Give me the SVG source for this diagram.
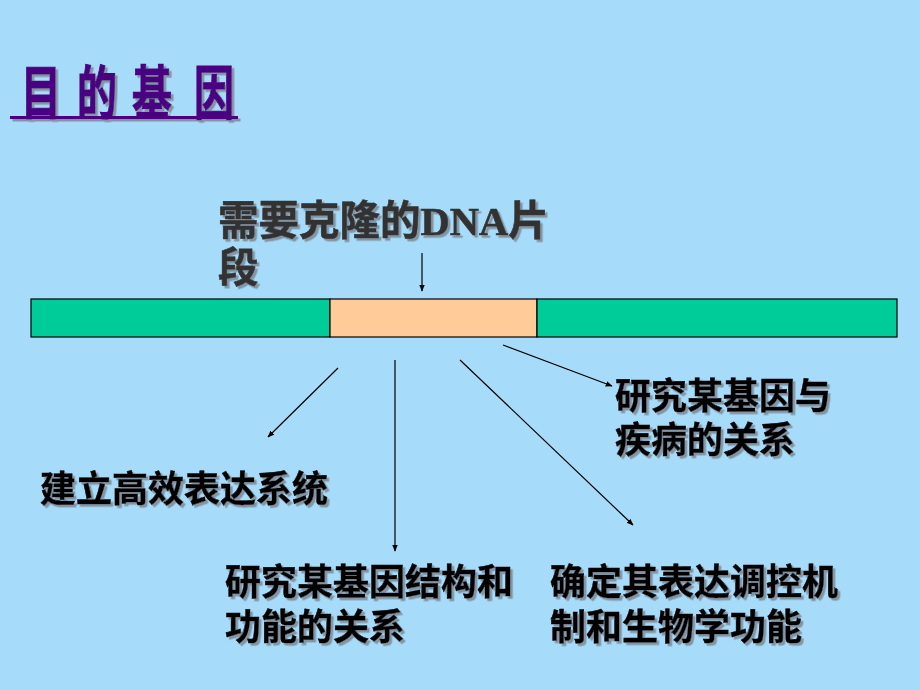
<svg xmlns="http://www.w3.org/2000/svg" width="920" height="690" viewBox="0 0 920 690">
<defs>
<style>
.cjk{font-family:"Liberation Sans","Noto Sans CJK SC",sans-serif;font-weight:bold}
.lbl{font-size:36px;fill:#000;stroke:#000;stroke-width:0.5}
.conn line{stroke:#000;stroke-width:1.2;marker-end:url(#ah)}
</style>
<filter id="sh" x="-10%" y="-10%" width="130%" height="140%">
<feDropShadow dx="2.5" dy="2.5" stdDeviation="0.6" flood-color="#7f8c99" flood-opacity="0.9"/>
</filter>
<marker id="ah" viewBox="0 0 10 10" refX="9" refY="5" markerWidth="7" markerHeight="7" markerUnits="userSpaceOnUse" orient="auto">
<path d="M0,1 L10,5 L0,9 z" fill="#000"/>
</marker>
</defs>
<rect width="920" height="690" fill="#A6DCFA"/>
<g id="title" filter="url(#sh)">
<text class="cjk" transform="translate(0,114) scale(1,1.45)" x="21 60 77 115 132 175 194" y="0" font-size="40" fill="#4B0082" stroke="#4B0082" stroke-width="0.8">目 的 基 因</text>
<rect x="10" y="116" width="228" height="3" fill="#4B0082"/>
</g>
<g id="fragment-label" filter="url(#sh)" fill="#333" stroke="#333" stroke-width="0.6">
<text class="cjk" x="218" y="235" font-size="40.5">需要克隆的<tspan font-family="'Liberation Serif',serif">DNA</tspan>片</text>
<text class="cjk" x="218" y="282" font-size="40.5">段</text>
</g>
<g id="dna-bar" stroke="#000" stroke-width="1.2">
<rect x="31" y="299" width="299" height="38" fill="#00CC99"/>
<rect x="330" y="299" width="207" height="38" fill="#FFCC99"/>
<rect x="537" y="299" width="360" height="38" fill="#00CC99"/>
</g>
<g id="connectors" class="conn">
<line x1="422" y1="253" x2="422" y2="291"/>
<line x1="338" y1="368" x2="268" y2="437"/>
<line x1="395" y1="360" x2="395" y2="551"/>
<line x1="460" y1="360" x2="633" y2="525"/>
<line x1="503" y1="345" x2="612" y2="386"/>
</g>
<g id="disease" class="cjk lbl" filter="url(#sh)">
<text x="615" y="409">研究某基因与</text>
<text x="615" y="453">疾病的关系</text>
</g>
<g id="expression" class="cjk lbl" filter="url(#sh)">
<text x="40" y="502">建立高效表达系统</text>
</g>
<g id="structure" class="cjk lbl" filter="url(#sh)">
<text x="225" y="595">研究某基因结构和</text>
<text x="225" y="640">功能的关系</text>
</g>
<g id="regulation" class="cjk lbl" filter="url(#sh)">
<text x="550" y="595">确定其表达调控机</text>
<text x="550" y="640">制和生物学功能</text>
</g>
</svg>
